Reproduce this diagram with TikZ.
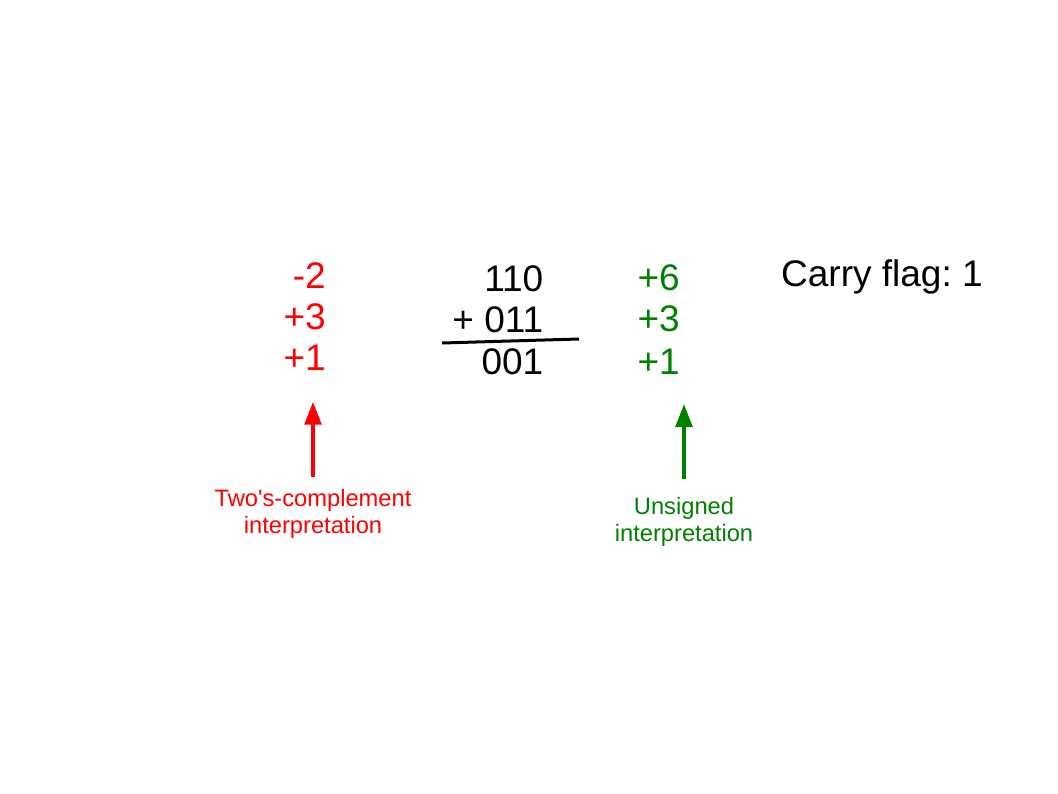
\documentclass[tikz,border=0pt]{standalone}
\usepackage{fontspec}
\setmainfont{Liberation Sans}
\usepackage{xcolor}
\usetikzlibrary{arrows.meta}
\definecolor{twosred}{RGB}{255,0,0}
\definecolor{unsgreen}{RGB}{0,128,0}
\frenchspacing

\begin{document}
\begin{tikzpicture}[x=1pt,y=-1pt,
	num/.style={anchor=base east,inner sep=0pt,font=\fontsize{37}{44}\selectfont},
	lbl/.style={anchor=base,inner sep=0pt,align=center,font=\fontsize{23.7}{27}\selectfont},
	up/.style={line width=4pt,-{Triangle[length=23pt,width=16.5pt]}}]
		\useasboundingbox (0,0) rectangle (1058,794);
		%
		\node[num,twosred] (R1) at (326,288.5) {-2};
		\node[num,twosred] (R2) at (326,329.5) {+3};
		\node[num,twosred] (R3) at (326,370.5) {+1};
		\node[num] (B1) at (543.5,291.7) {110};
		\node[num] (B2) at (543.5,332.7) {+ 011};
		\node[num] (B3) at (543.5,374.5) {001};
		\node[num,unsgreen] (G1) at (680,290.5) {+6};
		\node[num,unsgreen] (G2) at (680,332) {+3};
		\node[num,unsgreen] (G3) at (680,374) {+1};
		\node[num,anchor=base west] (carry) at (781,287) {Carry flag: 1};
		%
		\draw[line width=3pt] (442,343) -- (579,339);
		%
		\node[lbl,twosred,font=\fontsize{23.7}{26.6}\selectfont] (twoslbl) at (313,533.3) {Two\textquotesingle s-complement\\interpretation};
		\node[lbl,unsgreen,font=\fontsize{23.7}{27.7}\selectfont] (unslbl) at (684,541.7) {Unsigned\\interpretation};
		\coordinate (redtip) at (313,401.7);
		\coordinate (greentip) at (684,404);
		%
		\draw[up,twosred,shorten <=12.5pt] (twoslbl.north) -- (redtip);
		\draw[up,unsgreen,shorten <=17.5pt] (unslbl.north) -- (greentip);
\end{tikzpicture}
\end{document}
